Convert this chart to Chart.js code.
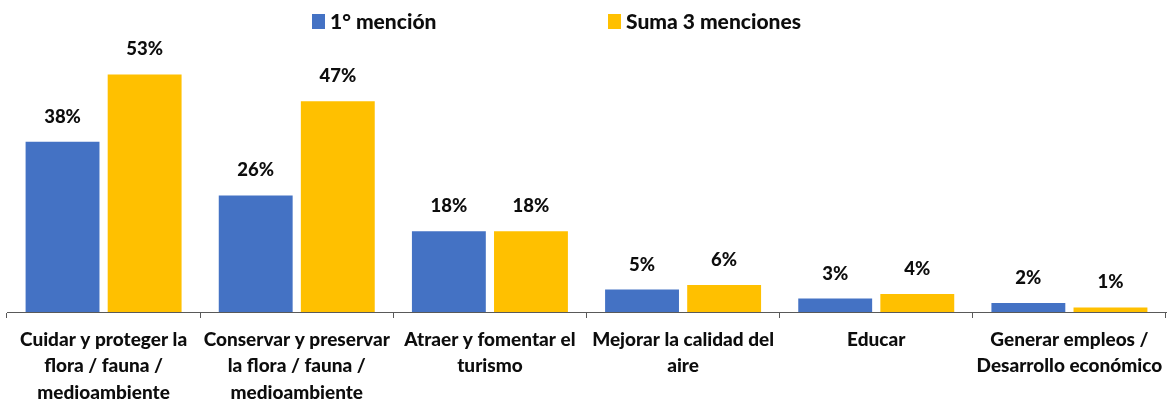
<!DOCTYPE html>
<html>
<head>
<meta charset="utf-8">
<script src="https://cdn.jsdelivr.net/npm/chart.js@4"></script>
<style>
  html, body { margin: 0; padding: 0; background: #ffffff; }
  #wrap { width: 1172px; height: 400px; position: relative; }
</style>
</head>
<body>
<div id="wrap"><canvas id="c" width="1172" height="400"></canvas></div>
<script>
const categories = [
  ["Cuidar y proteger la", "flora / fauna /", "medioambiente"],
  ["Conservar y preservar", "la flora / fauna /", "medioambiente"],
  ["Atraer y fomentar el", "turismo"],
  ["Mejorar la calidad del", "aire"],
  ["Educar"],
  ["Generar empleos /", "Desarrollo económico"]
];
const seriesNames = ["1° mención", "Suma 3 menciones"];
const primeraMencion = [38, 26, 18, 5, 3, 2];
const sumaMenciones = [53, 47, 18, 6, 4, 1];
const seriesColors = ["#4472C4", "#FFC000"];

const FONT = "Lato, 'Open Sans', sans-serif";

// Percent labels above each bar
const valueLabels = {
  id: 'valueLabels',
  afterDatasetsDraw(chart) {
    const ctx = chart.ctx;
    ctx.save();
    ctx.font = "900 18.5px " + FONT;
    ctx.fillStyle = "#0d0d0d";
    ctx.textAlign = "center";
    ctx.textBaseline = "middle";
    chart.data.datasets.forEach((ds, i) => {
      chart.getDatasetMeta(i).data.forEach((bar, j) => {
        ctx.fillText(ds.data[j] + "%", bar.x, bar.y - 25);
      });
    });
    ctx.restore();
  }
};

// Legend row across the top
const topLegend = {
  id: 'topLegend',
  afterDraw(chart) {
    const ctx = chart.ctx;
    const starts = [312, 608];
    ctx.save();
    ctx.font = "900 21px " + FONT;
    ctx.textBaseline = "middle";
    ctx.textAlign = "left";
    chart.data.datasets.forEach((ds, i) => {
      const x = starts[i];
      ctx.fillStyle = ds.backgroundColor;
      ctx.fillRect(x, 14, 13, 15);
      ctx.fillStyle = "#0d0d0d";
      ctx.fillText(ds.label, x + 18, 22);
    });
    ctx.restore();
  }
};

new Chart(document.getElementById('c'), {
  type: 'bar',
  data: {
    labels: categories,
    datasets: [
      { label: seriesNames[0], data: primeraMencion, backgroundColor: seriesColors[0] },
      { label: seriesNames[1], data: sumaMenciones, backgroundColor: seriesColors[1] }
    ]
  },
  options: {
    responsive: false,
    animation: false,
    devicePixelRatio: 1,
    layout: { padding: { left: 7, right: 6, top: 43, bottom: 0 } },
    categoryPercentage: 0.85,
    barPercentage: 0.9,
    plugins: {
      legend: { display: false },
      tooltip: { enabled: false }
    },
    scales: {
      y: {
        display: false,
        min: 0,
        max: 60
      },
      x: {
        grid: {
          display: true,
          drawOnChartArea: false,
          drawTicks: true,
          tickLength: 6,
          tickColor: "#595959",
          tickWidth: 1
        },
        border: { display: true, color: "#595959", width: 1 },
        ticks: {
          color: "#0d0d0d",
          font: { family: FONT, size: 19, weight: "900", lineHeight: 1.38 },
          padding: 9,
          maxRotation: 0,
          autoSkip: false
        },
        afterFit(scale) { scale.height = 88; }
      }
    }
  },
  plugins: [valueLabels, topLegend]
});
</script>
</body>
</html>
